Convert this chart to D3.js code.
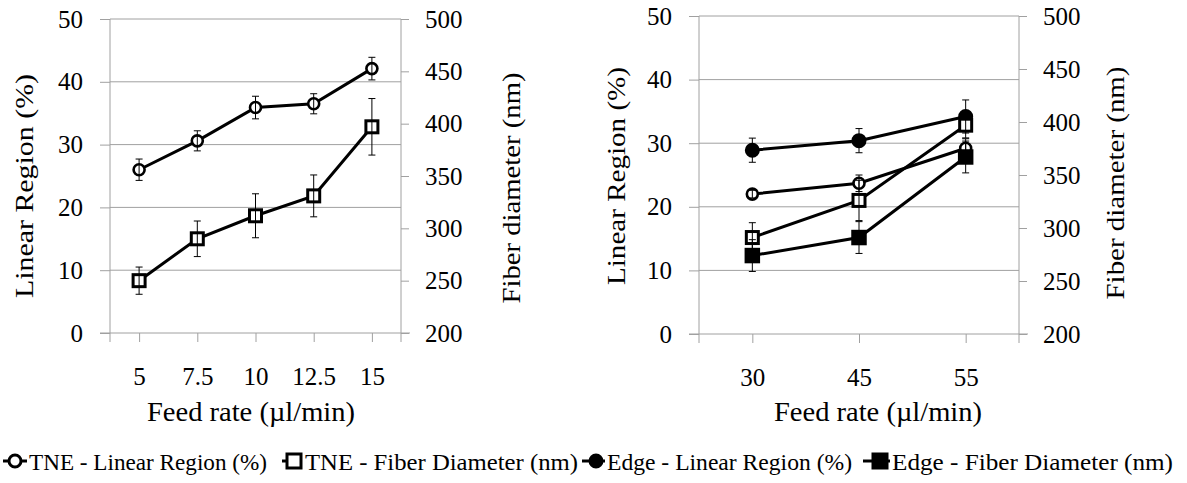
<!DOCTYPE html>
<html>
<head>
<meta charset="utf-8">
<script src="https://cdn.jsdelivr.net/npm/d3@7"></script>
<style>
    body { margin: 0; background: #fff; }
    svg text { font-family: "Liberation Serif", Tinos, "Times New Roman", Times, "DejaVu Serif", "Liberation Sans", serif; }
</style>
</head>
<body>
<svg width="1187" height="483"></svg>
<script>
// Left panel: feed rates 5 - 15 ul/min (TNE only)
const feedA = ['5', '7.5', '10', '12.5', '15'];
const tneLinearA = [26.0, 30.6, 35.9, 36.5, 42.1];
const tneLinearAErr = [1.7, 1.6, 1.8, 1.6, 1.8];
const tneFiberA = [250, 290, 312, 331, 397];
const tneFiberAErr = [13, 17, 21, 20, 27];

// Right panel: feed rates 30 - 55 ul/min (TNE and Edge)
const feedB = ['30', '45', '55'];
const tneLinearB = [22.0, 23.7, 29.2];
const tneLinearBErr = [0.6, 1.3, 1.5];
const tneFiberB = [291, 326, 397];
const tneFiberBErr = [14, 19, 12];
const edgeLinearB = [28.9, 30.4, 34.2];
const edgeLinearBErr = [1.9, 1.9, 2.6];
const edgeFiberB = [274, 291, 367];
const edgeFiberBErr = [15, 15, 15];

// Axis ticks
const linearTicks = [0, 10, 20, 30, 40, 50];
const fiberTicks = [200, 250, 300, 350, 400, 450, 500];

const legendLabels = [
    'TNE - Linear Region (%)',
    'TNE - Fiber Diameter (nm)',
    'Edge - Linear Region (%)',
    'Edge - Fiber Diameter (nm)'
];

const grey = '#a0a0a0';
const svg = d3.select('svg');

// vertical title, squeezed to a given length (start-anchored so textLength behaves)
function vTitle(g, cx, cy, len, label) {
    g.append('text')
        .attr('transform', `translate(${cx},${cy + len / 2}) rotate(-90)`)
        .attr('dominant-baseline', 'central')
        .attr('font-size', 26)
        .attr('textLength', len).attr('lengthAdjust', 'spacingAndGlyphs')
        .text(label);
}

function drawPanel(p) {
    const g = svg.append('g');

    const x = d3.scalePoint().domain(p.cats).range([p.left, p.right]).padding(0.5);
    const yL = d3.scaleLinear().domain([0, 50]).range([p.bottom, p.top]);
    const yR = d3.scaleLinear().domain([200, 500]).range([p.bottom, p.top]);

    // gridlines
    g.selectAll('.grid')
        .data(linearTicks.slice(1))
        .enter().append('line')
        .attr('x1', p.left).attr('x2', p.right)
        .attr('y1', d => yL(d)).attr('y2', d => yL(d))
        .attr('stroke', grey).attr('stroke-width', 1);

    // left axis
    const axL = g.append('g')
        .attr('transform', `translate(${p.left},0)`)
        .call(d3.axisLeft(yL).tickValues(linearTicks).tickSize(10).tickPadding(17));
    // right axis
    const axR = g.append('g')
        .attr('transform', `translate(${p.right},0)`)
        .call(d3.axisRight(yR).tickValues(fiberTicks).tickSize(8).tickPadding(16));
    // bottom axis
    const axB = g.append('g')
        .attr('transform', `translate(0,${p.bottom})`)
        .call(d3.axisBottom(x).tickSize(9));

    [axL, axR, axB].forEach(ax => {
        ax.attr('font-family', null).attr('font-size', 25);
        ax.select('.domain').remove();
        ax.selectAll('line').attr('stroke', grey);
        ax.selectAll('text').attr('fill', '#000');
    });
    axB.selectAll('text').attr('y', 52).attr('dy', 0);

    // axis lines
    g.append('line')
        .attr('x1', p.left - 10).attr('x2', p.right + 9)
        .attr('y1', p.bottom).attr('y2', p.bottom)
        .attr('stroke', grey);
    [p.left, p.right].forEach(xx => {
        g.append('line')
            .attr('x1', xx).attr('x2', xx)
            .attr('y1', p.top).attr('y2', p.bottom + 9)
            .attr('stroke', grey);
    });

    // axis titles
    vTitle(g, p.titleL[0], p.titleL[1], p.titleL[2], 'Linear Region (%)');
    vTitle(g, p.titleR[0], p.titleR[1], p.titleR[2], 'Fiber diameter (nm)');
    g.append('text')
        .attr('x', p.titleX - 104).attr('y', 421)
        .attr('font-size', 28)
        .attr('textLength', 208).attr('lengthAdjust', 'spacingAndGlyphs')
        .text('Feed rate (\u00b5l/min)');

    // series
    p.series.forEach(s => {
        const y = s.axis === 'left' ? yL : yR;
        const pts = p.cats.map((c, i) => ({ c, v: s.values[i], e: s.errors[i] }));

        g.append('path')
            .datum(pts)
            .attr('fill', 'none')
            .attr('stroke', '#000')
            .attr('stroke-width', 3)
            .attr('d', d3.line().x(d => x(d.c)).y(d => y(d.v)));

        const mk = g.selectAll(null).data(pts).enter();
        if (s.shape === 'circle') {
            mk.append('circle')
                .attr('cx', d => x(d.c)).attr('cy', d => y(d.v))
                .attr('r', s.filled ? 6.5 : 5.5)
                .attr('fill', s.filled ? '#000' : '#fff')
                .attr('stroke', '#000').attr('stroke-width', s.filled ? 2 : 2.6);
        } else {
            const sz = s.filled ? 13 : 12;
            mk.append('rect')
                .attr('x', d => x(d.c) - sz / 2).attr('y', d => y(d.v) - sz / 2)
                .attr('width', sz).attr('height', sz)
                .attr('fill', s.filled ? '#000' : '#fff')
                .attr('stroke', '#000').attr('stroke-width', s.filled ? 2.5 : 3);
        }

        // error bars
        const eb = g.selectAll(null).data(pts).enter().append('g')
            .attr('stroke', '#000').attr('stroke-width', 1);
        eb.append('line')
            .attr('x1', d => x(d.c)).attr('x2', d => x(d.c))
            .attr('y1', d => y(d.v - d.e)).attr('y2', d => y(d.v + d.e));
        eb.append('line')
            .attr('x1', d => x(d.c) - 3.5).attr('x2', d => x(d.c) + 3.5)
            .attr('y1', d => y(d.v + d.e)).attr('y2', d => y(d.v + d.e));
        eb.append('line')
            .attr('x1', d => x(d.c) - 3.5).attr('x2', d => x(d.c) + 3.5)
            .attr('y1', d => y(d.v - d.e)).attr('y2', d => y(d.v - d.e));
    });
}

drawPanel({
    cats: feedA, left: 110, right: 401, top: 19, bottom: 333,
    titleL: [24, 186, 224], titleR: [511, 188, 231], titleX: 251,
    series: [
        { values: tneLinearA, errors: tneLinearAErr, axis: 'left', shape: 'circle', filled: false },
        { values: tneFiberA, errors: tneFiberAErr, axis: 'right', shape: 'square', filled: false }
    ]
});

drawPanel({
    cats: feedB, left: 699, right: 1019, top: 16, bottom: 334,
    titleL: [616, 176, 218], titleR: [1115, 183, 233], titleX: 878,
    series: [
        { values: tneLinearB, errors: tneLinearBErr, axis: 'left', shape: 'circle', filled: false },
        { values: edgeLinearB, errors: edgeLinearBErr, axis: 'left', shape: 'circle', filled: true },
        { values: tneFiberB, errors: tneFiberBErr, axis: 'right', shape: 'square', filled: false },
        { values: edgeFiberB, errors: edgeFiberBErr, axis: 'right', shape: 'square', filled: true }
    ]
});

// legend along the bottom
const legendLayout = [
    { x0: 3, mx: 15, x1: 27, tx: 29, tw: 238, shape: 'circle', filled: false },
    { x0: 282, mx: 294, x1: 302, tx: 305, tw: 273, shape: 'square', filled: false },
    { x0: 582, mx: 596, x1: 605, tx: 607, tw: 245, shape: 'circle', filled: true },
    { x0: 863, mx: 880, x1: 890, tx: 892, tw: 281, shape: 'square', filled: true }
];
const legendY = 461;
const legend = svg.append('g');
legendLayout.forEach((l, i) => {
    legend.append('line')
        .attr('x1', l.x0).attr('x2', l.x1)
        .attr('y1', legendY).attr('y2', legendY)
        .attr('stroke', '#000').attr('stroke-width', 3);
    if (l.shape === 'circle') {
        legend.append('circle')
            .attr('cx', l.mx).attr('cy', legendY).attr('r', 6)
            .attr('fill', l.filled ? '#000' : '#fff')
            .attr('stroke', '#000').attr('stroke-width', 3);
    } else {
        legend.append('rect')
            .attr('x', l.mx - 7).attr('y', legendY - 7)
            .attr('width', 14).attr('height', 14)
            .attr('fill', l.filled ? '#000' : '#fff')
            .attr('stroke', '#000').attr('stroke-width', 3);
    }
    legend.append('text')
        .attr('x', l.tx).attr('y', 470)
        .attr('textLength', l.tw)
        .attr('lengthAdjust', 'spacingAndGlyphs')
        .attr('font-size', 24)
        .text(legendLabels[i]);
});
</script>
</body>
</html>
